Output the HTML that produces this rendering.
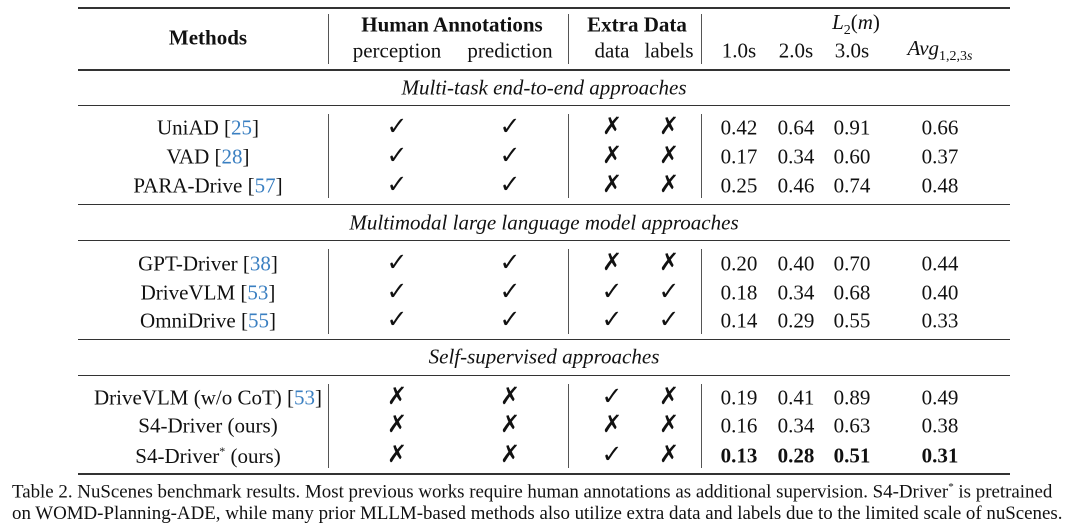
<!DOCTYPE html>
<html><head><meta charset="utf-8"><style>
body{margin:0;width:1080px;height:528px;background:#fff;position:relative;overflow:hidden;font-family:"Liberation Serif","DejaVu Serif",serif;color:#111}
.t{position:absolute;white-space:nowrap;font-size:21px;transform:translate(-50%,-50%);line-height:1}
.h{position:absolute;left:78px;width:932px;background:#333}
.v{position:absolute;width:1px;background:#555}
.ref{color:#3a7fc1}
.cap{position:absolute;left:12px;font-size:18.9px;white-space:nowrap}
</style></head><body>
<div id="root"></div>
<div class="cap" style="top:481px">Table 2. NuScenes benchmark results. Most previous works require human annotations as additional supervision. S4-Driver<sup style="font-size:11px">*</sup> is pretrained</div>
<div class="cap" style="top:503px">on WOMD-Planning-ADE, while many prior MLLM-based methods also utilize extra data and labels due to the limited scale of nuScenes.</div>
<script>
const sections=["Multi-task end-to-end approaches","Multimodal large language model approaches","Self-supervised approaches"];
const methods=[["UniAD","25"],["VAD","28"],["PARA-Drive","57"],["GPT-Driver","38"],["DriveVLM","53"],["OmniDrive","55"],["DriveVLM (w/o CoT)","53"],["S4-Driver (ours)",""],["S4-Driver<sup style='font-size:12px'>*</sup> (ours)",""]];
const marks=[[1,1,0,0],[1,1,0,0],[1,1,0,0],[1,1,0,0],[1,1,1,1],[1,1,1,1],[0,0,1,0],[0,0,0,0],[0,0,1,0]];
const l2=[["0.42","0.64","0.91","0.66"],["0.17","0.34","0.60","0.37"],["0.25","0.46","0.74","0.48"],["0.20","0.40","0.70","0.44"],["0.18","0.34","0.68","0.40"],["0.14","0.29","0.55","0.33"],["0.19","0.41","0.89","0.49"],["0.16","0.34","0.63","0.38"],["0.13","0.28","0.51","0.31"]];
const root=document.getElementById('root');
function T(x,y,html,name,style){const d=document.createElement('div');d.className='t';d.style.left=x+'px';d.style.top=y+'px';if(style)d.style.cssText+=style;d.innerHTML=html;


root.appendChild(d);}
function H(y,h){const d=document.createElement('div');d.className='h';d.style.top=y+'px';d.style.height=h+'px';


root.appendChild(d);}
function V(x,y1,y2){const d=document.createElement('div');d.className='v';d.style.left=x+'px';d.style.top=y1+'px';d.style.height=(y2-y1)+'px';


root.appendChild(d);}
[[7,2],[69,2],[105,1],[204,1],[240,1],[339,1],[375,1],[473,2]].forEach(r=>H(r[0],r[1]));
const vx=[328,568,701];
[[14,64],[114,198],[249,334],[384,468]].forEach(s=>vx.forEach(x=>V(x,s[0],s[1])));
T(208,38,"<b>Methods</b>","methods-header");
T(452,25,"<b>Human Annotations</b>","human-annotations-header");
T(397,51,"perception","perception-header");
T(510,51,"prediction","prediction-header");
T(637,25,"<b>Extra Data</b>","extra-data-header");
T(612,51,"data","data-header");
T(669,51,"labels","labels-header");
T(856,25,"<i>L</i><sub style='font-size:14px'>2</sub>(<i>m</i>)","l2-header");
T(739,51,"1.0s","col-1s-header");T(796,51,"2.0s","col-2s-header");T(852,51,"3.0s","col-3s-header");
T(940,51,"<i>Avg</i><sub style='font-size:14px'>1,2,3<i>s</i></sub>","avg-header");
const secY=[88,223,357];
sections.forEach((s,i)=>T(544,secY[i],"<i>"+s+"</i>","section-title"));
const rowY=[128,157,186,264,293,321,398,426,456];
const mx=[397,510,612,669],nx=[739,796,852,940];
methods.forEach((m,i)=>{const y=rowY[i];
T(208,y,m[0]+(m[1]?" [<span class='ref'>"+m[1]+"</span>]":""),"method-name");
marks[i].forEach((v,j)=>T(mx[j],y-2,v?"✓":"✗",v?"check-mark":"cross-mark",v?"font-size:25px;font-family:'DejaVu Sans';":"font-size:24px;font-weight:bold;font-family:'DejaVu Sans';"));
l2[i].forEach((v,j)=>T(nx[j],y,i==8?"<b>"+v+"</b>":v,"l2-value"));
});
</script>
</body></html>
